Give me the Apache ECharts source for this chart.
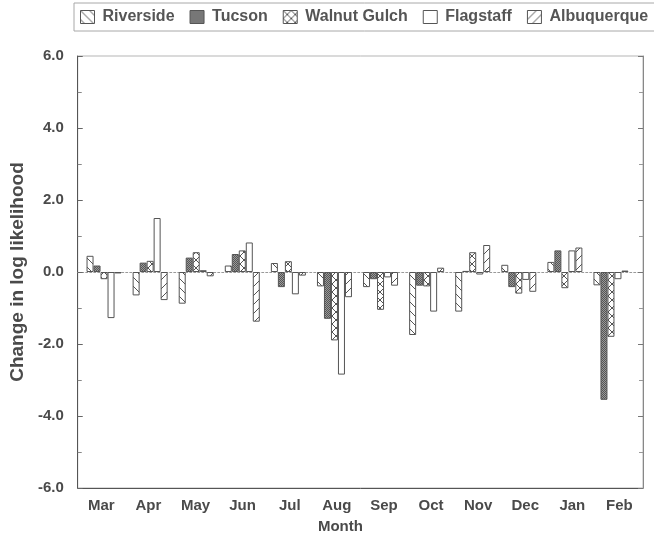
<!DOCTYPE html>
<html><head><meta charset="utf-8">
<script src="https://cdn.jsdelivr.net/npm/echarts@6/dist/echarts.min.js"></script>
<style>html,body{margin:0;padding:0;background:#fff}#c{width:654px;height:545px}</style>
</head><body><div id="c"></div>
<script>
const months = ['Mar','Apr','May','Jun','Jul','Aug','Sep','Oct','Nov','Dec','Jan','Feb'];
const seriesNames = ['Riverside','Tucson','Walnut Gulch','Flagstaff','Albuquerque'];
const riverside   = [0.45, -0.65, -0.88, 0.18, 0.25, -0.40, -0.42, -1.75, -1.10, 0.20, 0.28, -0.37];
const tucson      = [0.18, 0.26, 0.40, 0.50, -0.42, -1.30, -0.20, -0.38, 0.03, -0.42, 0.60, -3.55];
const walnutGulch = [-0.20, 0.31, 0.55, 0.60, 0.30, -1.90, -1.05, -0.40, 0.55, -0.60, -0.45, -1.80];
const flagstaff   = [-1.28, 1.50, 0.05, 0.82, -0.62, -2.85, -0.15, -1.10, -0.07, -0.22, 0.60, -0.20];
const albuquerque = [-0.04, -0.78, -0.12, -1.38, -0.10, -0.70, -0.38, 0.12, 0.75, -0.55, 0.68, 0.04];
const yMin = -6, yMax = 6, yInterval = 2;

function makePattern(kind) {
  const s = kind === 'cross' ? 8 : (kind === 'dots' ? 2 : 9);
  const c = document.createElement('canvas');
  c.width = s; c.height = s;
  const g = c.getContext('2d');
  g.fillStyle = '#fff'; g.fillRect(0, 0, s, s);
  g.strokeStyle = '#555'; g.lineWidth = 1;
  if (kind === 'dots') {
    g.fillStyle = '#9a9a9a'; g.fillRect(0, 0, 2, 2);
    g.fillStyle = '#555'; g.fillRect(0, 0, 1, 1); g.fillRect(1, 1, 1, 1);
    return { image: c, repeat: 'repeat' };
  }
  g.beginPath();
  if (kind === 'back' || kind === 'cross') {
    g.moveTo(-1, -1); g.lineTo(s + 1, s + 1);
    g.moveTo(-1, s - 1); g.lineTo(1, s + 1);
    g.moveTo(s - 1, -1); g.lineTo(s + 1, 1);
  }
  if (kind === 'fwd' || kind === 'cross') {
    g.moveTo(-1, s + 1); g.lineTo(s + 1, -1);
    g.moveTo(-1, 1); g.lineTo(1, -1);
    g.moveTo(s - 1, s + 1); g.lineTo(s + 1, s - 1);
  }
  g.stroke();
  return { image: c, repeat: 'repeat' };
}

const fills = [makePattern('back'), makePattern('dots'), makePattern('cross'), '#ffffff', makePattern('fwd')];
const values = [riverside, tucson, walnutGulch, flagstaff, albuquerque];
const textColor = '#4a4a4a';
const fontFam = '"Liberation Sans", Arial, sans-serif';

const chart = echarts.init(document.getElementById('c'), null, { renderer: 'canvas' });
chart.setOption({
  animation: false,
  backgroundColor: '#fff',
  textStyle: { fontFamily: fontFam },
  legend: {
    data: seriesNames,
    left: 74, top: 3, width: 900,
    padding: [6, 8, 6, 6],
    itemGap: 15,
    itemWidth: 14, itemHeight: 13,
    icon: 'rect',
    borderColor: '#a8a8a8', borderWidth: 1,
    itemStyle: { borderColor: '#555', borderWidth: 1 },
    textStyle: { fontSize: 16, fontWeight: 'bold', color: '#555', fontFamily: fontFam, padding: [0, 0, 0, 3] }
  },
  grid: [
    { left: 73, right: 11, top: 56, bottom: 57, show: true, borderColor: '#b5b5b5', borderWidth: 1 },
    { left: 81, right: 20, top: 56, bottom: 57 }
  ],
  xAxis: [
    { type: 'category', gridIndex: 0, data: months, position: 'bottom',
      axisLine: { onZero: false, lineStyle: { color: '#555', width: 1 } },
      axisTick: { show: false },
      axisLabel: { color: textColor, fontSize: 15, fontWeight: 'bold', margin: 10 },
      name: 'Month', nameLocation: 'middle', nameGap: 31,
      nameTextStyle: { color: textColor, fontSize: 15, fontWeight: 'bold', padding: [0, 40, 0, 0] } },
    { type: 'category', gridIndex: 0, data: months, position: 'top',
      axisLine: { onZero: true, lineStyle: { color: '#999', type: [2, 2], width: 1 } },
      axisTick: { show: false }, axisLabel: { show: false } },
    { type: 'category', gridIndex: 1, data: months, show: false }
  ],
  yAxis: [
    { type: 'value', gridIndex: 0, min: yMin, max: yMax, interval: yInterval, position: 'left',
      axisLine: { show: true, onZero: false, lineStyle: { color: '#555', width: 1 } },
      axisTick: { show: true, inside: true, length: 5, lineStyle: { color: '#666' } },
      minorTick: { show: true, splitNumber: 2, length: 4, lineStyle: { color: '#888' } },
      splitLine: { show: false },
      axisLabel: { color: textColor, fontSize: 15, fontWeight: 'bold', margin: 14,
        formatter: v => v.toFixed(1) },
      name: 'Change in log likelihood', nameLocation: 'middle', nameGap: 43, nameRotate: 90,
      nameTextStyle: { color: textColor, fontSize: 19, fontWeight: 'bold' } },
    { type: 'value', gridIndex: 0, min: yMin, max: yMax, interval: yInterval, position: 'right',
      axisLine: { show: true, onZero: false, lineStyle: { color: '#888', width: 1 } },
      axisTick: { show: true, inside: true, length: 5, lineStyle: { color: '#777' } },
      minorTick: { show: true, splitNumber: 2, length: 4, lineStyle: { color: '#999' } },
      splitLine: { show: false }, axisLabel: { show: false } },
    { type: 'value', gridIndex: 1, min: yMin, max: yMax, interval: yInterval, show: false,
      splitLine: { show: false } }
  ],
  series: seriesNames.map((name, i) => ({
    name, type: 'bar', xAxisIndex: 2, yAxisIndex: 2,
    data: values[i],
    barWidth: 7, barGap: '0%',
    itemStyle: { color: fills[i], borderColor: '#555', borderWidth: 1 },
    emphasis: { disabled: true }
  }))
});
</script></body></html>
